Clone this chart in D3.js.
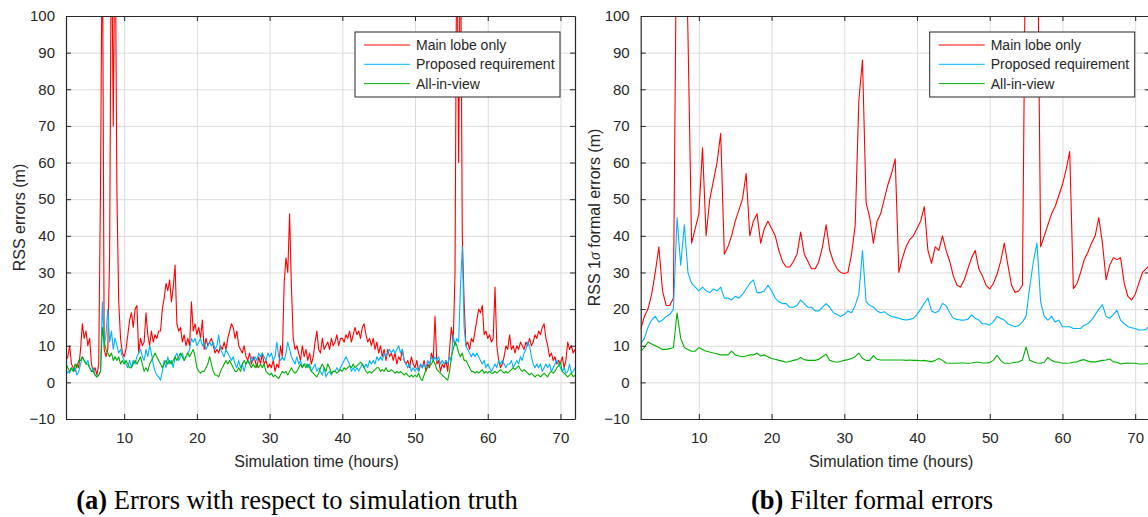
<!DOCTYPE html>
<html>
<head>
<meta charset="utf-8">
<script src="https://cdn.jsdelivr.net/npm/d3@7"></script>
<style>
  html, body { margin: 0; padding: 0; background: #fff; }
  svg { display: block; }
  text { font-family: "Liberation Sans", Arial, Helvetica, sans-serif; fill: #262626; }
  .caption { font-family: "Liberation Serif", "Times New Roman", serif; fill: #000; }
</style>
</head>
<body>
<script>
// sampling times (hours)
var hoursLeft = d3.range(2, 72.001, 0.25);
var hoursRight = d3.range(2, 72.001, 0.5);

var seriesNames = ["Main lobe only", "Proposed requirement", "All-in-view"];
var xTicks = [10, 20, 30, 40, 50, 60, 70];
var yTicks = [-10, 0, 10, 20, 30, 40, 50, 60, 70, 80, 90, 100];

// (a) errors wrt simulation truth, one row = one hour (4 samples)
var truthMain = [
  6, 7, 10, 5,   4, 3, 5, 4,   9, 16, 12, 14,   10, 12, 5, 3,   4, 2, 5, 54,
  130, 9, 7, 9,   35, 130, 70, 130,   52, 22, 12, 8,   7, 9, 13, 17,   19, 15, 20, 21,
  8, 12, 10, 11,   19, 13, 10, 14,   11, 13, 12, 14,   14, 20, 23, 27,   25, 28, 22, 26,
  32, 16, 14, 15,   11, 13, 10, 12,   10, 22, 14, 16,   13, 15, 12, 17,   9, 12, 10, 11,
  12, 10, 8, 9,   8, 10, 9, 11,   9, 12, 14, 16,   15, 12, 14, 10,   9, 8, 10, 7,
  6, 8, 5, 7,   6, 4, 7, 5,   8, 5, 6, 4,   5, 4, 6, 3,   5, 4, 10, 7,
  27, 34, 30, 46,   26, 12, 9, 10,   8, 6, 10, 7,   9, 6, 8, 5,   7, 11, 14, 9,
  8, 12, 9, 10,   11, 9, 12, 10,   11, 13, 10, 12,   12, 11, 13, 12,   14, 11, 13, 15,
  13, 14, 12, 15,   16, 13, 11, 12,   10, 12, 9, 11,   8, 10, 7, 9,   6, 9, 7, 8,
  6, 8, 5, 7,   6, 9, 6, 5,   6, 4, 7, 5,   4, 6, 3, 5,   4, 6, 3, 5,
  4, 8, 6, 18,   5, 6, 3, 5,   4, 6, 3, 9,   15, 11, 30, 130,   60, 130, 40, 22,
  10, 11, 9, 12,   11, 14, 17, 20,   19, 21, 13, 14,   12, 13, 11, 12,   26, 10, 6, 4,
  5, 7, 10, 9,   13, 9, 10, 8,   10, 9, 11, 10,   9, 11, 10, 12,   10, 11, 13, 12,
  14, 13, 15, 16,   12, 10, 7, 8,   6, 7, 5, 6,   5, 7, 4, 6,   11, 9, 10, 8,
  9
];
var truthProposed = [
  2, 3, 2.5, 4,   3, 4, 2, 3,   5, 7, 6, 5,   6, 4, 3, 4,   2, 1.5, 2, 3,
  22, 10, 13, 20,   11, 14, 9, 12,   10, 8, 9, 7,   6, 5, 4, 6,   4, 6, 5, 7,
  8, 9, 7, 6,   9, 7, 10, 8,   5, 3, 2, 1.5,   0.6, 3, 6, 4,   7, 5, 6, 4,
  7, 8, 6, 7,   8, 6, 7, 8,   9, 12, 11, 12,   10, 11, 12, 10,   11, 9, 10, 11,
  10, 11, 9, 10,   13, 9, 8, 7,   9, 8, 7, 6,   7, 5, 4, 6,   4, 5, 3, 5,
  6, 5, 7, 6,   7, 6, 8, 7,   8, 7, 6, 8,   7, 8, 6, 7,   11, 7, 6, 7,
  6, 8, 11, 9,   7, 6, 5, 7,   5, 6, 4, 5,   5, 4, 5, 3,   4, 5, 3, 4,
  3, 2, 4, 1.5,   2.5, 3, 2, 3,   3, 4, 3, 4,   5, 6, 7, 6,   5, 3, 4, 3,
  4, 3, 4, 5,   4, 5, 4, 6,   5, 6, 5, 7,   6, 7, 6, 8,   7, 8, 9, 8,
  9, 8, 9, 10,   8, 9, 6, 5,   4, 5, 3, 4,   3, 4, 3, 5,   4, 5, 4, 6,
  5, 7, 6, 7,   6, 7, 5, 6,   5, 6, 5, 7,   6, 13, 10, 12,   11, 26, 37, 15,
  10, 9, 8, 7,   8, 7, 8, 7,   6, 5, 6, 4,   5, 4, 3, 4,   5, 4, 6, 5,
  6, 5, 4, 5,   5, 6, 4, 5,   6, 5, 7, 6,   8, 9, 11, 10,   7, 5, 4, 5,
  4, 5, 3, 4,   5, 4, 5, 3,   4, 5, 6, 5,   4, 3, 4, 2.5,   3, 5, 2.5, 3,
  4
];
var truthAll = [
  5, 4, 3, 4,   3, 5, 4, 6,   6, 7, 6, 5,   5, 4, 3, 3,   2, 1.5, 2, 3,
  15, 11, 9, 8,   7, 8, 6, 7,   6, 7, 5, 6,   5, 6, 5, 4,   4, 5, 6, 5,
  6, 7, 5, 3,   4, 3, 5, 6,   7, 8, 7, 6,   5, 4, 5, 6,   5, 6, 5, 6,
  7, 6, 7, 8,   7, 6, 7, 8,   7, 8, 9, 7,   4, 3, 2.5, 3,   3, 4, 5, 7,
  5, 3, 2, 2,   1.5, 3, 4, 5,   6, 5, 6, 5,   4, 3, 3, 4,   3, 5, 6, 5,
  6, 5, 4, 5,   4, 5, 4, 5,   4, 5, 3, 2.5,   2, 2.5, 1.5, 2,   1.5, 1, 2, 3,
  2.5, 3, 2, 3,   4, 3, 2.5, 3,   4, 5, 4, 5,   4, 5, 4, 3,   2.5, 2, 1.5, 2.5,
  4, 5, 4, 3,   5, 4, 2.5, 3,   3, 2.5, 3, 3.5,   3, 4, 3.5, 4,   4.5, 4, 5, 4,
  4.5, 5, 5.5, 5,   4, 3, 2.5, 3,   2.5, 3, 3.5, 4,   4, 3, 3.5, 3,   4, 3, 3, 3.5,
  3, 2.5, 3, 2.5,   3, 2.5, 2, 2.5,   2, 1.5, 2, 1.5,   2, 1.5, 2.5, 1,   0.5, 2, 3.4, 4,
  4.5, 5, 6, 5,   3.5, 3, 2.5, 2,   1.5, 1, 0.6, 3,   7, 9, 11, 10,   8, 7, 8, 6,
  6, 5, 4, 3,   3, 2.5, 3, 2.5,   3, 3.5, 2.5, 3,   2.5, 3, 2.5, 2.5,   3, 2.5, 3, 3.5,
  3, 2.5, 3, 2.5,   3, 3.5, 4, 3.5,   4, 4.5, 3.5, 3,   3.5, 3, 2.5, 2,   2.5, 2, 1.5, 2,
  2, 1.5, 2, 2.5,   2, 1.5, 2.5, 3,   2.5, 3, 4, 4.5,   5.5, 3, 2.5, 2,   1.5, 2, 2.5, 1.5,
  2
];

// (b) filter formal errors, one row = one hour (2 samples)
var formalMain = [
  14.5, 18,   20, 24,   30, 37,   25, 21,   21, 23,   140, 140,   140, 95,   38, 42,   46, 64,   40, 50,
  55, 60,   68, 35,   37, 40,   44, 47,   50, 57,   40, 44,   46, 38,   42, 44,   42, 40,   36, 33,
  31.5, 31.5,   33, 35,   41, 35,   33, 31,   31, 33,   37, 43,   36, 33,   31, 30,   29.7, 30,   35, 43,
  77, 88,   49, 45,   38, 44,   46, 50,   54, 57,   61, 30,   34, 37,   39, 40,   42, 44,   48, 36,
  32.5, 37,   36, 40,   36, 33,   29, 26.5,   26, 28,   31, 34,   36, 31,   29, 26.5,   25.5, 27,   29.5, 33,
  38, 32,   26.5, 24.5,   25, 26.5,   140, 140,   140, 140,   37, 40,   43, 46,   48, 51,   54, 58,   63, 25.6,
  27, 30,   33.5, 35.5,   38, 40,   45, 38,   28, 32,   34, 33.5,   34, 27,   23.5, 22.5,   24, 27,   30, 31,
  32
];
var formalProposed = [
  10.5, 12,   15, 17,   18, 16.5,   17, 18,   18.5, 20,   45, 32,   43, 30,   27, 26,   25, 26,   25, 24.5,
  25.5, 25,   26, 23,   23, 22.5,   23.5, 23,   24, 25.5,   27, 28,   24.5, 24.5,   25, 26.5,   25, 23,   22, 21.5,
  21.5, 20.5,   20.5, 21,   22.5, 21.5,   20.5, 20.5,   19.5, 19.5,   20.5, 21.5,   20.5, 19,   18.5, 18,   18.5, 19.5,   19, 21,
  24, 36,   22, 21,   20.6, 19.5,   19, 19.3,   18.5, 18,   17.8, 17.5,   17.2, 17,   17.2, 17.5,   18.5, 20,   21.6, 23,
  19.5, 19,   19.5, 21.5,   21, 19,   17.5, 17.2,   17, 17,   17.2, 18.4,   17.5, 17,   16, 16,   15.6, 16.5,   18, 17.5,
  17, 16,   15.5, 15.2,   15.5, 16.5,   18, 26,   33, 38,   22, 18,   17, 18,   16.5, 17,   15.2, 15.2,   15.2, 14.7,
  14.7, 14.7,   15.6, 16,   17, 18.5,   20, 21.2,   18, 17.5,   18.5, 19.7,   17, 16,   15.2, 14.9,   14.7, 14.3,   14.3, 14.5,
  15.6
];
var formalAll = [
  8.5, 9.5,   11, 10.5,   10, 9.5,   9, 9,   9.2, 9.5,   19, 12,   9.5, 9,   8.5, 8.5,   9.5, 9,   8.5, 8.3,
  8, 7.8,   7.5, 7.5,   7.5, 8.5,   7.5, 7.2,   7, 7.2,   7.5, 7.5,   8, 7.2,   7.5, 7,   6.5, 6.3,   6, 5.8,
  5.5, 5.7,   6, 6.2,   6.8, 6.2,   6, 6,   6, 6.3,   7, 7.7,   6, 5.7,   5.5, 5.7,   6, 6.2,   6.5, 7,
  8, 6.5,   6, 6,   7.3, 6.3,   6.1, 6.1,   6.1, 6.1,   6.1, 6.1,   6.1, 6,   6.1, 6,   6, 5.9,   6, 5.8,
  5.6, 6,   6.5, 6,   5.3, 5.2,   5.2, 5.2,   5.3, 5.3,   5.2, 5.3,   5.5, 5.5,   5.3, 5.3,   5.4, 6,   7.4, 6,
  5.2, 5.2,   5.3, 5.5,   5.6, 6.1,   9.7, 6,   5.6, 5.3,   5.2, 5.5,   6.8, 6,   5.6, 5.5,   5.2, 5.2,   5.3, 5.5,
  5.6, 6,   6.2, 5.8,   5.6, 5.6,   5.8, 6,   6.1, 6.4,   5.6, 5.5,   5, 5.2,   5.3, 5.2,   5.2, 5,   5, 5.1,
  5.2
];

var colors = ["#ff0000", "#00b4ff", "#00b000"];

var W = 1148, H = 517;
var svg = d3.select("body").append("svg")
    .attr("width", W)
    .attr("height", H);

function drawPanel(id, left, right, hours, series, yLabel, caption) {
  var top = 16, bottom = 419;

  var x = d3.scaleLinear().domain([2, 72]).range([left, right]);
  var y = d3.scaleLinear().domain([-10, 100]).range([bottom, top]);

  var g = svg.append("g");

  svg.append("clipPath")
      .attr("id", "clip-" + id)
    .append("rect")
      .attr("x", left)
      .attr("y", top)
      .attr("width", right - left)
      .attr("height", bottom - top);

  // grid
  g.append("g")
      .attr("transform", "translate(0," + bottom + ")")
      .call(d3.axisBottom(x).tickValues(xTicks).tickSize(-(bottom - top)).tickFormat(""))
      .call(function(s) {
        s.select(".domain").remove();
        s.selectAll("line").attr("stroke", "#dcdcdc").attr("stroke-width", 1);
      });
  g.append("g")
      .attr("transform", "translate(" + left + ",0)")
      .call(d3.axisLeft(y).tickValues(yTicks).tickSize(-(right - left)).tickFormat(""))
      .call(function(s) {
        s.select(".domain").remove();
        s.selectAll("line").attr("stroke", "#dcdcdc").attr("stroke-width", 1);
      });

  // lines
  var plot = g.append("g").attr("clip-path", "url(#clip-" + id + ")");
  series.forEach(function(vals, i) {
    var n = Math.min(vals.length, hours.length);
    var pts = d3.range(n).map(function(k) { return [hours[k], vals[k]]; });
    plot.append("path")
        .datum(pts)
        .attr("fill", "none")
        .attr("stroke", colors[i])
        .attr("stroke-width", 1.1)
        .attr("stroke-linejoin", "round")
        .attr("d", d3.line()
          .x(function(d) { return x(d[0]); })
          .y(function(d) { return y(d[1]); }));
  });

  // axes: inward ticks on all four sides
  var bx = g.append("g")
      .attr("transform", "translate(0," + bottom + ")")
      .call(d3.axisBottom(x).tickValues(xTicks).tickSizeInner(-5).tickSizeOuter(0).tickPadding(13));
  var tx = g.append("g")
      .attr("transform", "translate(0," + top + ")")
      .call(d3.axisTop(x).tickValues(xTicks).tickSizeInner(-5).tickSizeOuter(0).tickFormat(""));
  var ly = g.append("g")
      .attr("transform", "translate(" + left + ",0)")
      .call(d3.axisLeft(y).tickValues(yTicks).tickSizeInner(-5).tickSizeOuter(0).tickPadding(11));
  var ry = g.append("g")
      .attr("transform", "translate(" + right + ",0)")
      .call(d3.axisRight(y).tickValues(yTicks).tickSizeInner(-5).tickSizeOuter(0).tickFormat(""));

  [bx, tx, ly, ry].forEach(function(a) {
    a.select(".domain").attr("stroke", "#262626").attr("stroke-width", 1.2);
    a.selectAll(".tick line").attr("stroke", "#262626");
    a.selectAll(".tick text")
        .attr("fill", "#262626")
        .style("font-family", "'Liberation Sans', Arial, sans-serif")
        .style("font-size", "15px");
  });

  // axis labels
  g.append("text")
      .attr("x", (left + right) / 2 - 4)
      .attr("y", 467)
      .attr("text-anchor", "middle")
      .style("font-size", "16px")
      .text("Simulation time (hours)");

  var yl = g.append("text")
      .attr("transform", "translate(" + (left - 41) + "," + ((top + bottom) / 2) + ") rotate(-90)")
      .attr("text-anchor", "middle")
      .style("font-size", "16px");
  yLabel(yl);

  // legend
  var lx = left + 289, ly0 = 32;
  var legend = g.append("g");
  legend.append("rect")
      .attr("x", lx)
      .attr("y", ly0)
      .attr("width", 205)
      .attr("height", 65)
      .attr("fill", "#fff")
      .attr("stroke", "#262626")
      .attr("stroke-width", 1);
  var item = legend.selectAll(".item")
      .data(seriesNames)
    .enter().append("g")
      .attr("class", "item")
      .attr("transform", function(d, i) { return "translate(0," + (ly0 + 13 + i * 19.3) + ")"; });
  item.append("line")
      .attr("x1", lx + 9)
      .attr("x2", lx + 55)
      .attr("stroke", function(d, i) { return colors[i]; })
      .attr("stroke-width", 1);
  item.append("text")
      .attr("x", lx + 61)
      .attr("dy", "0.35em")
      .style("font-size", "14px")
      .text(function(d) { return d; });

  // caption
  var cap = svg.append("text")
      .attr("class", "caption")
      .attr("x", caption.x)
      .attr("y", 509)
      .attr("text-anchor", "middle")
      .style("font-size", "26.5px");
  cap.append("tspan").style("font-weight", "bold").text("(" + caption.tag + ")");
  cap.append("tspan").text(" " + caption.text);
}

drawPanel("a", 66, 575, hoursLeft, [truthMain, truthProposed, truthAll],
  function(t) { t.text("RSS errors (m)"); },
  {x: 297, tag: "a", text: "Errors with respect to simulation truth"});

drawPanel("b", 640.7, 1149.7, hoursRight, [formalMain, formalProposed, formalAll],
  function(t) {
    t.append("tspan").text("RSS 1");
    t.append("tspan").style("font-style", "italic").style("font-family", "'Liberation Serif', serif").text("\u03c3");
    t.append("tspan").text(" formal errors (m)");
  },
  {x: 872, tag: "b", text: "Filter formal errors"});
</script>
</body>
</html>
